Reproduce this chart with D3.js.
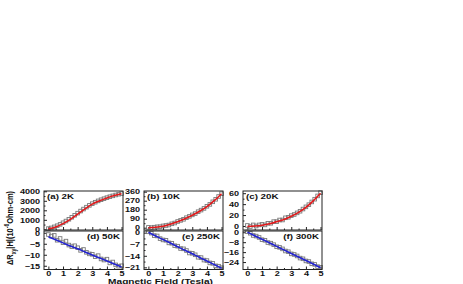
<!DOCTYPE html>
<html>
<head>
<meta charset="utf-8">
<script src="https://cdn.jsdelivr.net/npm/d3@7"></script>
<style>
  body { margin: 0; background: #fff; }
  text { font-family: "Liberation Sans", Arial, sans-serif; font-weight: bold; fill: #111; }
</style>
</head>
<body>
<div id="chart"></div>
<script>
// measured field values (Tesla) and fit grid
var field = [0,0.2,0.4,0.6,0.8,1.0,1.2,1.4,1.6,1.8,2.0,2.2,2.4,2.6,2.8,3.0,3.2,3.4,3.6,3.8,4.0,4.2,4.4,4.6,4.8,5.0];
var fitField = [0,0.5,1.0,1.5,2.0,2.5,3.0,3.5,4.0,4.5,5.0];

var panelLabels = ["(a) 2K", "(b) 10K", "(c) 20K", "(d) 50K", "(e) 250K", "(f) 300K"];

// data points, one array per temperature
var pts2K   = [80,150,260,380,520,690,870,1060,1270,1480,1700,1920,2130,2330,2520,2700,2850,2990,3110,3220,3330,3430,3520,3610,3690,3760];
var pts10K  = [3,1,5,9,10,18,22,27,39,47,62,73,84,100,113,128,141,160,176,193,214,233,259,284,312,340];
var pts20K  = [1,-1,2,0,2,3,2,5,5,8,8,11,11,15,16,19,21,24,27,31,35,39,44,49,55,61];
var pts50K  = [-0.8,-1.5,-1.2,-3.4,-2.6,-4.5,-3.8,-5.6,-6.3,-5.9,-6.8,-8.0,-7.6,-8.9,-9.6,-9.8,-10.9,-10.4,-11.9,-12.4,-12.0,-13.7,-13.3,-14.6,-15.2,-15.0];
var pts250K = [0.5,-0.3,-1.8,-2.0,-3.6,-4.4,-4.6,-6.2,-6.4,-7.9,-8.2,-9.6,-9.8,-10.8,-12.3,-12.5,-13.4,-14.9,-15.1,-16.6,-16.9,-18.3,-18.6,-20.1,-20.3,-21.2];
var pts300K = [0.4,-0.8,-2.6,-3.1,-4.2,-6.0,-6.5,-8.3,-8.8,-10.0,-11.7,-12.2,-13.4,-15.1,-15.7,-17.4,-17.9,-19.1,-20.8,-21.4,-23.1,-23.6,-25.4,-25.9,-27.7,-28.2];

// fit curves
var fit2K   = [50,250,600,1050,1600,2150,2650,3000,3300,3550,3750];
var fit10K  = [0,4,15,35,60,90,125,165,210,270,340];
var fit20K  = [-1,0,1.5,4,8,12,18,25,34,46,60];
var fit50K  = [-1.8,-3.2,-4.6,-6.0,-7.3,-8.7,-10.1,-11.5,-12.8,-14.2,-15.6];
var fit250K = [0.2,-2.0,-4.2,-6.3,-8.5,-10.7,-12.8,-15.0,-17.1,-19.3,-21.5];
var fit300K = [0.1,-2.8,-5.7,-8.5,-11.4,-14.2,-17.1,-19.9,-22.8,-25.6,-28.5];

// y tick labels
var yTicks2K   = [0,1000,2000,3000,4000];
var yTicks10K  = [0,90,180,270,360];
var yTicks20K  = [0,20,40,60];
var yTicks50K  = [0,-5,-10,-15];
var yTicks250K = [0,-7,-14,-21];
var yTicks300K = [0,-8,-16,-24];
var xTicks = [0,1,2,3,4,5];

var panels = [
  {label: panelLabels[0], pts: pts2K,   fit: fit2K,   ticks: yTicks2K,   domain: [-70, 4030], col: 0, row: 0, color: "#e3191b"},
  {label: panelLabels[1], pts: pts10K,  fit: fit10K,  ticks: yTicks10K,  domain: [-23, 367],  col: 1, row: 0, color: "#e3191b"},
  {label: panelLabels[2], pts: pts20K,  fit: fit20K,  ticks: yTicks20K,  domain: [-7.3, 64],  col: 2, row: 0, color: "#e3191b"},
  {label: panelLabels[3], pts: pts50K,  fit: fit50K,  ticks: yTicks50K,  domain: [-16.7, 0.8], col: 0, row: 1, color: "#2424d0"},
  {label: panelLabels[4], pts: pts250K, fit: fit250K, ticks: yTicks250K, domain: [-22.3, 1.0], col: 1, row: 1, color: "#2424d0"},
  {label: panelLabels[5], pts: pts300K, fit: fit300K, ticks: yTicks300K, domain: [-30, 1.0],  col: 2, row: 1, color: "#2424d0"}
];

var svgWidth = 463, svgHeight = 284;
var lefts = [44, 144, 243];
var tops = [191, 231];
var panelW = 79;
var heights = [39, 38.5];
var stretch = 1.3;
var fmt = d3.format("d");

var svg = d3.select("#chart").append("svg")
  .attr("width", svgWidth)
  .attr("height", svgHeight);

var xScale = d3.scaleLinear().domain([-0.3, 5.1]).range([0, panelW]);

panels.forEach(function(p) {
  var h = heights[p.row];
  var g = svg.append("g")
    .attr("transform", `translate(${lefts[p.col]}, ${tops[p.row]})`);

  var yScale = d3.scaleLinear().domain(p.domain).range([h, 0]);

  g.append("rect")
    .attr("width", panelW)
    .attr("height", h)
    .attr("fill", "#fff");

  // minor ticks
  var yMinor = d3.pairs(p.ticks).map(d => (d[0] + d[1]) / 2);
  g.append("g")
    .call(d3.axisLeft(yScale).tickValues(yMinor).tickSizeInner(-1.5).tickSizeOuter(0).tickFormat(""))
    .call(a => a.select(".domain").remove());
  g.append("g")
    .attr("transform", `translate(0, ${h})`)
    .call(d3.axisBottom(xScale).tickValues(d3.pairs(xTicks).map(d => (d[0] + d[1]) / 2))
      .tickSizeInner(-1.5).tickSizeOuter(0).tickFormat(""))
    .call(a => a.select(".domain").remove());

  // y axis
  var yAx = g.append("g")
    .call(d3.axisLeft(yScale).tickValues(p.ticks).tickFormat(fmt)
      .tickSizeInner(-3).tickSizeOuter(0).tickPadding(3))
    .call(a => a.select(".domain").remove());
  yAx.selectAll("text")
    .style("font-size", "7px")
    .attr("transform", `scale(${stretch},1)`);

  // x axis
  var xAx = g.append("g")
    .attr("transform", `translate(0, ${h})`)
    .call(d3.axisBottom(xScale).tickValues(xTicks).tickFormat(fmt)
      .tickSizeInner(-3).tickSizeOuter(0).tickPadding(2))
    .call(a => a.select(".domain").remove());
  if (p.row === 0) {
    xAx.selectAll("text").remove();
  } else {
    xAx.selectAll("text")
      .style("font-size", "7px")
      .attr("transform", `scale(${stretch},1)`);
  }
  g.selectAll(".tick line").attr("stroke", "#222");

  // data points
  g.selectAll("rect.pt")
    .data(p.pts)
    .enter()
    .append("rect")
    .attr("class", "pt")
    .attr("x", (d, i) => xScale(field[i]) - 1.8)
    .attr("y", d => yScale(d) - 1.8)
    .attr("width", 3.6)
    .attr("height", 3.6)
    .attr("fill", "none")
    .attr("stroke", "#7a7a7a")
    .attr("stroke-width", 0.9);

  // fit curve
  var line = d3.line()
    .x((d, i) => xScale(fitField[i]))
    .y(d => yScale(d))
    .curve(d3.curveMonotoneX);
  g.append("path")
    .datum(p.fit)
    .attr("d", line)
    .attr("fill", "none")
    .attr("stroke", p.color)
    .attr("stroke-width", 1.6);

  // frame
  g.append("rect")
    .attr("width", panelW)
    .attr("height", h)
    .attr("fill", "none")
    .attr("stroke", "#222")
    .attr("stroke-width", 1);

  // panel label
  var lx = p.row === 0 ? 3 : panelW - 3;
  g.append("text")
    .attr("transform", `translate(${lx}, 7.5) scale(${stretch},1)`)
    .attr("text-anchor", p.row === 0 ? "start" : "end")
    .style("font-size", "7.5px")
    .text(p.label);
});

// x axis label
svg.append("text")
  .attr("transform", `translate(160.5, 283.5) scale(1.35,1)`)
  .attr("text-anchor", "middle")
  .style("font-size", "7.5px")
  .text("Magnetic Field (Tesla)");

// y axis label
var yLab = svg.append("text")
  .attr("transform", `translate(13, 228) scale(${stretch},1) rotate(-90)`)
  .attr("text-anchor", "middle")
  .style("font-size", "7.5px");
yLab.append("tspan").text("\u0394R");
yLab.append("tspan").attr("dy", 2).style("font-size", "5px").text("xy");
yLab.append("tspan").attr("dy", -2).text("|H|(10");
yLab.append("tspan").attr("dy", -3).style("font-size", "5px").text("-6");
yLab.append("tspan").attr("dy", 3).text("Ohm-cm)");
</script>
</body>
</html>
